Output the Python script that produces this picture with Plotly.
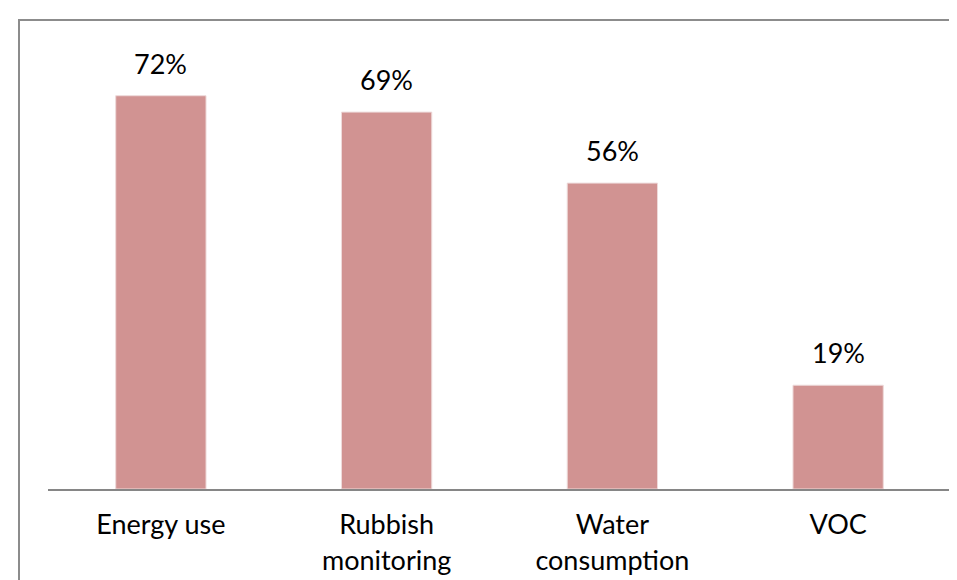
import plotly.graph_objects as go

categories = ["Energy use", "Rubbish<br>monitoring", "Water<br>consumption", "VOC"]
values = [0.72, 0.69, 0.56, 0.19]
labels = ["72%", "69%", "56%", "19%"]

FONT = "Lato"
fig = go.Figure()
fig.add_trace(go.Bar(
    x=categories, y=values,
    marker=dict(color="#D19392", line=dict(color="#EEDADA", width=1)),
    hoverinfo="skip",
))

for c, v, t in zip(categories, values, labels):
    fig.add_annotation(x=c, y=v, text=t, showarrow=False, yanchor="bottom",
                       yshift=14, font=dict(family=FONT, size=27, color="#000000"))

# outer chart border (only top and left visible in frame)
fig.add_shape(type="rect", xref="paper", yref="paper",
              x0=(11 - 40) / 903, x1=1.2, y0=-0.5, y1=(481 - 12) / 461,
              line=dict(color="#8C8C8C", width=2), layer="above")

fig.update_layout(
    width=957, height=580,
    margin=dict(l=40, r=14, t=20, b=99),
    paper_bgcolor="white", plot_bgcolor="white",
    bargap=0.6, showlegend=False,
    font=dict(family=FONT, size=27, color="#000000"),
)
fig.update_xaxes(showline=True, linecolor="#868686", linewidth=2,
                 ticks="outside", ticklen=11, tickcolor="rgba(0,0,0,0)",
                 tickfont=dict(family=FONT, size=27, color="#000000"),
                 showgrid=False, fixedrange=True)
fig.update_yaxes(range=[0, 0.844], visible=False, showgrid=False, zeroline=False)

fig.write_html("out.html")
